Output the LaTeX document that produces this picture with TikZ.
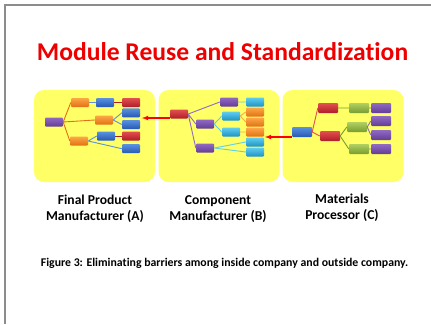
\documentclass[tikz,border=0pt]{standalone}
\usepackage{fontspec}
\setmainfont{Carlito}[Ligatures=NoCommon]
\usetikzlibrary{arrows,positioning,calc}

\definecolor{panelyellow}{RGB}{255,255,102}
\definecolor{framegray}{RGB}{140,140,140}
\definecolor{titlered}{RGB}{238,0,0}
\definecolor{purpleTop}{RGB}{146,106,196}\definecolor{purpleBot}{RGB}{98,60,150}
\definecolor{orangeTop}{RGB}{252,168,70}\definecolor{orangeBot}{RGB}{226,112,20}
\definecolor{blueTop}{RGB}{90,146,224}\definecolor{blueBot}{RGB}{38,88,178}
\definecolor{redTop}{RGB}{226,80,80}\definecolor{redBot}{RGB}{176,28,40}
\definecolor{cyanTop}{RGB}{96,206,238}\definecolor{cyanBot}{RGB}{28,146,198}
\definecolor{greenTop}{RGB}{178,208,98}\definecolor{greenBot}{RGB}{118,156,48}

\begin{document}
\begin{tikzpicture}[x=1pt, y=-1pt,
				      every node/.style={align=center},
				      panel/.style={fill=panelyellow, rounded corners=10pt, minimum width=121pt, minimum height=92pt, inner sep=0pt},
				      box/.style={rounded corners=1pt, minimum width=18pt, minimum height=9pt, inner sep=0pt},
				      wideBox/.style={box, minimum width=20pt, minimum height=10pt},
				      purpleBox/.style={top color=purpleTop, bottom color=purpleBot},
				      orangeBox/.style={top color=orangeTop, bottom color=orangeBot},
				      blueBox/.style={top color=blueTop, bottom color=blueBot},
				      redBox/.style={top color=redTop, bottom color=redBot},
				      cyanBox/.style={top color=cyanTop, bottom color=cyanBot},
				      greenBox/.style={top color=greenTop, bottom color=greenBot},
				      link/.style={line width=0.9pt},
				      barrier/.style={line width=1.1pt, color=red, -latex},  % Arrows between companies
				      caption/.style={font=\fontsize{13.6}{16}\selectfont\bfseries}
			      ]
			      \useasboundingbox (0,0) rectangle (431,324);
			      \draw[framegray, line width=1.6pt] (5,324) -- (5,5) -- (431,5);

			      \node[text=titlered, font=\fontsize{25.6}{28}\selectfont\bfseries] (T) at (222.5,52) {Module Reuse and Standardization};

			      % Yellow panels
			      \node[panel] (PA) at (94.5,136) {};
			      \node[panel] (PB) at (219,136) {};
			      \node[panel] (PC) at (343,136) {};

			      % Final product manufacturer
			      \node[box, purpleBox] (A1) at (54,122) {};
			      \node[box, orangeBox] (A2) at (80,102.5) {};
			      \node[box, orangeBox] (A3) at (104,120) {};
			      \node[box, orangeBox] (A4) at (79,141) {};
			      \node[box, blueBox] (A5) at (105,102.5) {};
			      \node[box, redBox] (A6) at (131,102.5) {};
			      \node[box, blueBox] (A7) at (131,112.8) {};
			      \node[box, blueBox] (A8) at (131,124.5) {};
			      \node[box, blueBox] (A9) at (106,136) {};
			      \node[box, redBox] (A10) at (131,136) {};
			      \node[box, blueBox] (A11) at (131,148.7) {};
			      \draw[link, orangeBot] (A1.east) -- (A2.west) (A1.east) -- (A3.west) (A1.east) -- (A4.west);
			      \draw[link, blueTop] (A2.east) -- (A5.west) (A3.east) -- (A7.west) (A3.east) -- (A8.west)
			                          (A4.east) -- (A9.west) (A4.east) -- (A11.west);
			      \draw[link, redBot] (A5.east) -- (A6.west) (A9.east) -- (A10.west);

			      % Component manufacturer
			      \node[box, redBox] (B1) at (179,114) {};
			      \node[box, purpleBox] (B2) at (229,102) {};
			      \node[box, purpleBox] (B3) at (205,124) {};
			      \node[box, purpleBox] (B4) at (205,148) {};
			      \node[box, cyanBox] (B5) at (255,102) {};
			      \node[box, cyanBox] (B6) at (231,116) {};
			      \node[box, cyanBox] (B7) at (231,132) {};
			      \node[box, orangeBox] (B8) at (255,112) {};
			      \node[box, orangeBox] (B9) at (255,122) {};
			      \node[box, orangeBox] (B10) at (255,132) {};
			      \node[box, cyanBox] (B11) at (255,142) {};
			      \node[box, cyanBox] (B12) at (255,152) {};
			      \draw[link, purpleTop] (B1.east) -- (B2.west) (B1.east) -- (B3.west) (B1.east) -- (B4.west);
			      \draw[link, cyanTop] (B2.east) -- (B5.west) (B3.east) -- (B6.west) (B3.east) -- (B7.west)
			                          (B4.east) -- (B11.west) (B4.east) -- (B12.west);
			      \draw[link, orangeTop] (B6.east) -- (B8.west) (B6.east) -- (B9.west) (B7.east) -- (B10.west);

			      % Materials processor
			      \node[wideBox, blueBox] (C1) at (302,132) {};
			      \node[wideBox, redBox] (C2) at (328,108) {};
			      \node[wideBox, redBox] (C3) at (330,136) {};
			      \node[wideBox, greenBox] (C4) at (359,108) {};
			      \node[wideBox, purpleBox] (C5) at (381,108) {};
			      \node[wideBox, greenBox] (C6) at (357,127) {};
			      \node[wideBox, purpleBox] (C7) at (381,121) {};
			      \node[wideBox, purpleBox] (C8) at (381,135) {};
			      \node[wideBox, greenBox] (C9) at (359,149) {};
			      \node[wideBox, purpleBox] (C10) at (381,149) {};
			      \draw[link, redTop] (C1.east) -- (C2.west) (C1.east) -- (C3.west);
			      \draw[link, greenBot] (C2.east) -- (C4.west) (C3.east) -- (C6.west) (C3.east) -- (C9.west);
			      \draw[link, purpleTop] (C4.east) -- (C5.west) (C6.east) -- (C7.west) (C6.east) -- (C8.west) (C9.east) -- (C10.west);

			      % Barriers removed
			      \coordinate (AT) at (142,118);
			      \coordinate (BT) at (265,137);
			      \draw[barrier] (B1.west |- AT) -- (AT);
			      \draw[barrier] (C1.west |- BT) -- (BT);

			      \node[caption] (LA) at (95,209) {Final Product\\Manufacturer (A)};
			      \node[caption] (LB) at (218,209) {Component\\Manufacturer (B)};
			      \node[caption] (LC) at (342,208) {Materials\\Processor (C)};
			      \node[font=\fontsize{11.8}{13}\selectfont\bfseries] (F) at (224.5,263) {Figure 3: Eliminating barriers among inside company and outside company.};
		      \end{tikzpicture}
\end{document}
